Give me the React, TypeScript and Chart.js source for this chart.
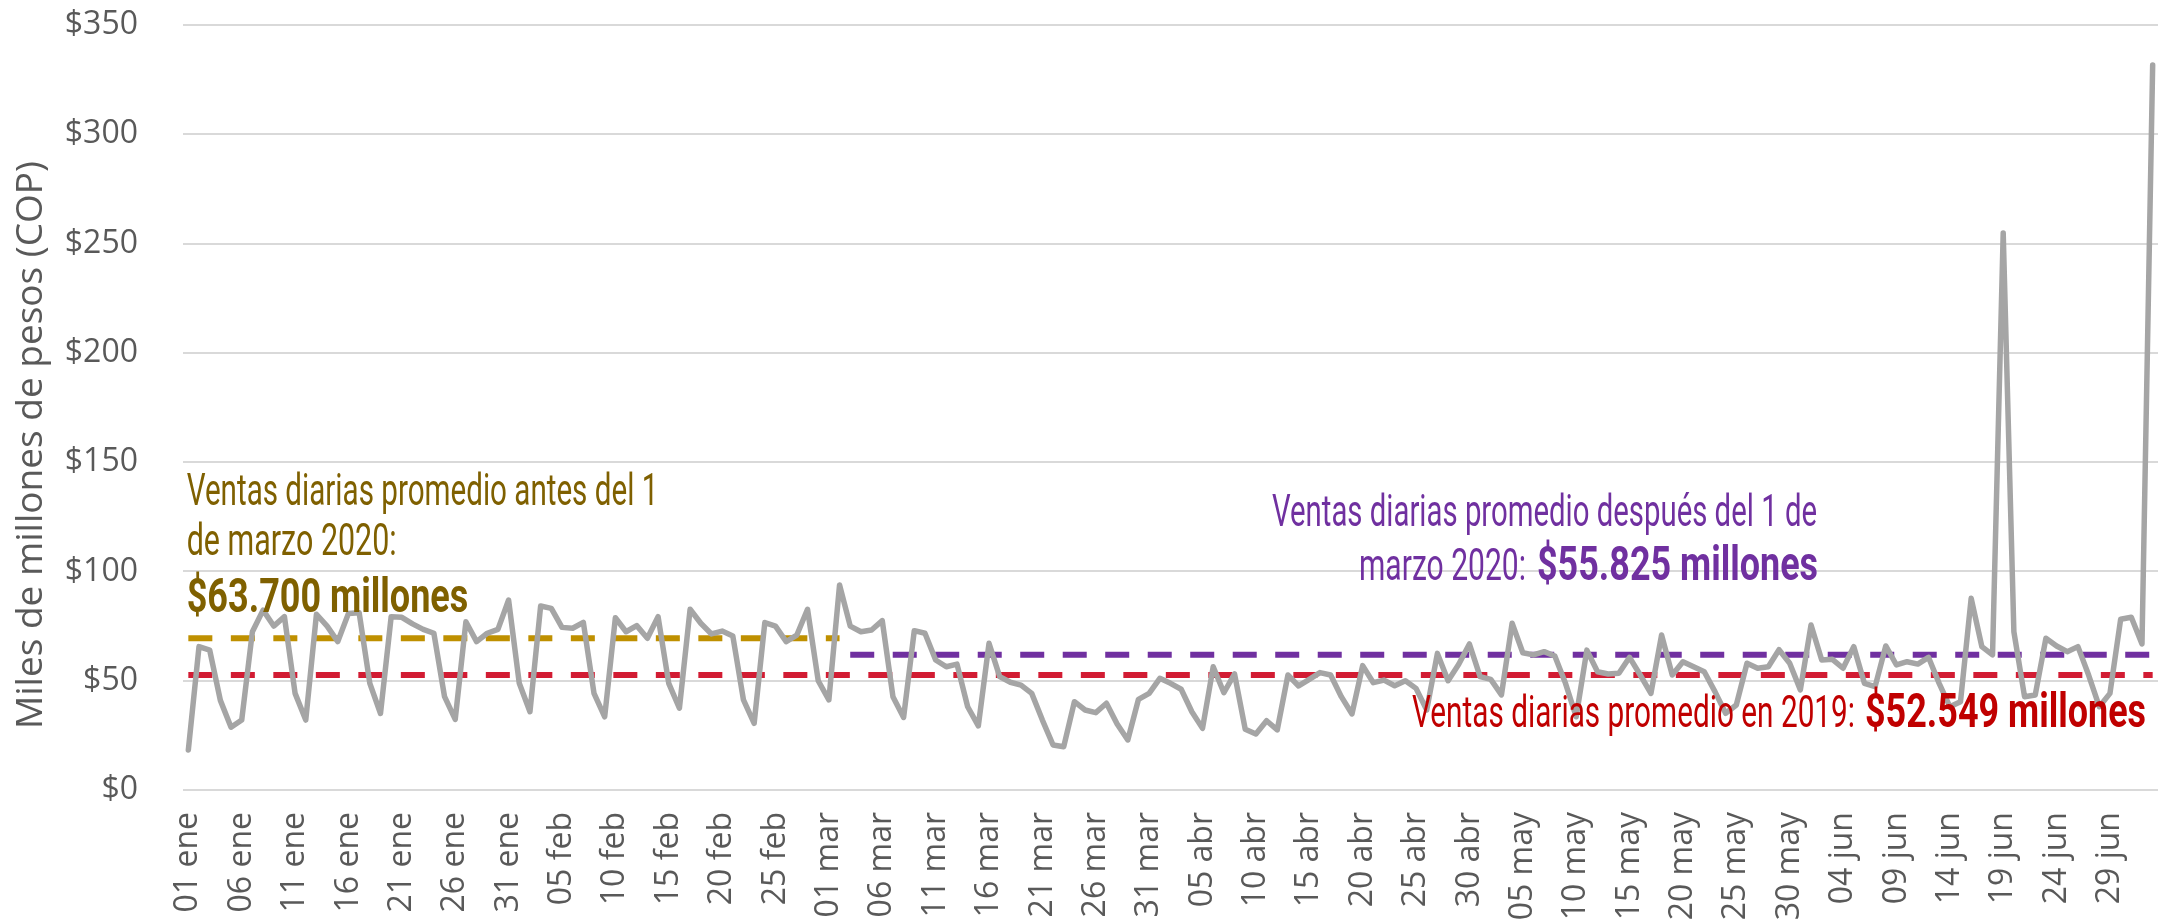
import React, { useEffect, useRef } from "react";
import { Chart, registerables } from "chart.js";

Chart.register(...registerables);

// ---- data ----
const months = ["ene", "feb", "mar", "abr", "may", "jun", "jul"];
const daysShown = [31, 29, 31, 30, 31, 30, 3]; // 01 ene 2020 -> 03 jul 2020

const dailySales = [
  18.3, 65.6, 64, 41, 28.7, 32, 72.4, 82.3, 75, 79.3,
  44.2, 32, 80.4, 75, 67.9, 80.8, 81.1, 48.8, 35, 79.3,
  79, 76, 73.5, 71.7, 42.7, 32.3, 77, 67.9, 71.7, 73.5,
  86.9, 48.8, 35.8, 84.2, 83.1, 74.4, 74, 76.7, 44.2, 33.5,
  78.8, 72.4, 75.2, 69.4, 79.3, 48.8, 37.4, 82.7, 76.3, 71.4,
  72.7, 70.5, 41.2, 30.5, 76.6, 75, 67.9, 70.9, 82.7, 50,
  41.2, 93.8, 75, 72.4, 73.2, 77.5, 42.7, 33.2, 72.9, 71.7,
  59.5, 56.4, 57.6, 38.1, 29.3, 67.1, 51.9, 49.3, 48, 44.2,
  32, 20.6, 19.8, 40.4, 36.6, 35.4, 39.7, 30.2, 22.9, 41.5,
  44.2, 51.1, 48.8, 46.1, 35.8, 28.2, 56.4, 44.5, 53.1, 27.8,
  25.6, 31.7, 27.5, 52.6, 47.6, 50.6, 53.7, 52.6, 42.7, 34.8,
  56.9, 49.1, 50.3, 47.7, 50, 46.5, 36.6, 62.5, 50, 57.5,
  66.8, 51.9, 50.6, 43.5, 76.3, 62.8, 61.8, 63.3, 61.3, 48.8,
  33.5, 64, 54.1, 53.1, 53.4, 60.7, 52.6, 44.2, 70.9, 52.6,
  58.7, 56.4, 54.1, 45, 35.1, 38.9, 58, 55.7, 56.4, 64.2,
  58, 45.8, 75.5, 59.5, 59.8, 55.7, 65.6, 48.8, 47.3, 65.9,
  57.2, 58.7, 57.6, 60.7, 48.8, 38.1, 40.4, 87.7, 65.6, 61.8,
  254.8, 72.4, 42.7, 43.5, 69.4, 65.9, 63.3, 65.6, 52.6, 38.1,
  44.2, 78.1, 79, 66.8, 331.7,
];

// reference levels (value, first index, last index)
const avgBeforeLevel = 69.4;
const avgBeforeSpan = [0, 61];
const avgAfterLevel = 61.9;
const avgAfterSpan = [62, 184];
const avg2019Level = 52.6;
const avg2019Span = [0, 184];

const yTicks = [0, 50, 100, 150, 200, 250, 300, 350];
const tickEvery = 5;
const yTitle = "Miles de millones de pesos (COP)";

// ---- annotation text ----
const NOTE_FONT = "Roboto";
const notes = [
  { text: "Ventas diarias promedio antes del 1", bold: false, color: "#7F6000", x: 186.7, y: 505, size: 44, width: 471.6 },
  { text: "de marzo 2020:", bold: false, color: "#7F6000", x: 186.7, y: 555, size: 44, width: 210 },
  { text: "$63.700 millones", bold: true, color: "#7F6000", x: 186.7, y: 611.7, size: 49, width: 281.6 },
  { text: "Ventas diarias promedio después del 1 de", bold: false, color: "#7030A0", x: 1272, y: 526, size: 44, width: 545 },
  { text: "marzo 2020:", bold: false, color: "#7030A0", x: 1359, y: 580, size: 44, width: 167 },
  { text: "$55.825 millones", bold: true, color: "#7030A0", x: 1537, y: 580, size: 49, width: 281 },
  { text: "Ventas diarias promedio en 2019:", bold: false, color: "#C00000", x: 1412, y: 727, size: 44, width: 443 },
  { text: "$52.549 millones", bold: true, color: "#C00000", x: 1865, y: 727, size: 49, width: 281 },
];

function buildLabels(): string[] {
  const out: string[] = [];
  months.forEach((m, mi) => {
    for (let d = 1; d <= daysShown[mi]; d++) {
      out.push(`${String(d).padStart(2, "0")} ${m}`);
    }
  });
  return out;
}

function levelSeries(level: number, span: number[], n: number) {
  const arr: (number | null)[] = [];
  for (let i = 0; i < n; i++) arr.push(i >= span[0] && i <= span[1] ? level : null);
  return arr;
}

const notesPlugin = {
  id: "notes",
  afterDatasetsDraw(chart: any) {
    const ctx = chart.ctx;
    for (const n of notes) {
      ctx.save();
      ctx.font = `${n.bold ? "bold " : ""}${n.size}px ${NOTE_FONT}`;
      const w = ctx.measureText(n.text).width;
      ctx.translate(n.x, n.y);
      ctx.scale(n.width / w, 1);
      ctx.fillStyle = n.color;
      ctx.textAlign = "left";
      ctx.textBaseline = "alphabetic";
      ctx.fillText(n.text, 0, 0);
      ctx.restore();
    }
    // y-axis title
    ctx.save();
    ctx.translate(31, 445);
    ctx.rotate(-Math.PI / 2);
    ctx.font = "37px 'Open Sans'";
    ctx.fillStyle = "#595959";
    ctx.textAlign = "center";
    ctx.textBaseline = "middle";
    ctx.fillText(yTitle, 0, 0);
    ctx.restore();
  },
};

export default function App() {
  const ref = useRef<HTMLCanvasElement | null>(null);

  useEffect(() => {
    if (!ref.current) return;
    const labels = buildLabels();
    const n = labels.length;
    const dash = [24, 18.5];
    const chart = new Chart(ref.current, {
      type: "line",
      data: {
        labels,
        datasets: [
          {
            label: "Ventas diarias",
            data: dailySales,
            borderColor: "#A5A5A5",
            borderWidth: 5.5,
            pointRadius: 0,
            tension: 0,
            borderJoinStyle: "round",
            borderCapStyle: "round",
          },
          {
            label: "Promedio antes",
            data: levelSeries(avgBeforeLevel, avgBeforeSpan, n),
            borderColor: "#BF9000",
            borderWidth: 6,
            borderDash: dash,
            pointRadius: 0,
            spanGaps: false,
          },
          {
            label: "Promedio después",
            data: levelSeries(avgAfterLevel, avgAfterSpan, n),
            borderColor: "#7030A0",
            borderWidth: 6,
            borderDash: dash,
            pointRadius: 0,
            spanGaps: false,
          },
          {
            label: "Promedio 2019",
            data: levelSeries(avg2019Level, avg2019Span, n),
            borderColor: "#D21C33",
            borderWidth: 6,
            borderDash: dash,
            pointRadius: 0,
          },
        ],
      },
      options: {
        responsive: false,
        animation: false,
        devicePixelRatio: 1,
        layout: { padding: { top: 25, right: 22, left: 0, bottom: 0 } },
        plugins: {
          legend: { display: false },
          tooltip: { enabled: false },
        },
        scales: {
          x: {
            offset: true,
            grid: { display: false, drawTicks: false },
            border: { display: false },
            ticks: {
              autoSkip: false,
              minRotation: 90,
              maxRotation: 90,
              padding: 22,
              color: "#595959",
              font: { family: "Open Sans", size: 32 },
              callback: (_v: any, i: number) => (i % tickEvery === 0 ? labels[i] : null),
            },
            afterFit: (s: any) => {
              s.height = 133;
            },
          },
          y: {
            min: yTicks[0],
            max: yTicks[yTicks.length - 1],
            afterBuildTicks: (s: any) => {
              s.ticks = yTicks.map((v) => ({ value: v }));
            },
            grid: { color: "#D9D9D9", lineWidth: 2, drawTicks: true, tickLength: 45, tickColor: "rgba(0,0,0,0)" },
            border: { display: false },
            ticks: {
              padding: 0,
              color: "#595959",
              font: { family: "Open Sans", size: 32 },
              callback: (v: any) => `$${v}`,
            },
            afterFit: (s: any) => {
              s.width = 183;
              s.paddingTop = 0;
              s.paddingBottom = 0;
            },
          },
        },
      },
      plugins: [notesPlugin],
    });
    return () => chart.destroy();
  }, []);

  return (
    <div style={{ position: "absolute", left: 0, top: 0, width: 2180, height: 923, background: "#fff" }}>
      <canvas ref={ref} width={2180} height={923} />
    </div>
  );
}
